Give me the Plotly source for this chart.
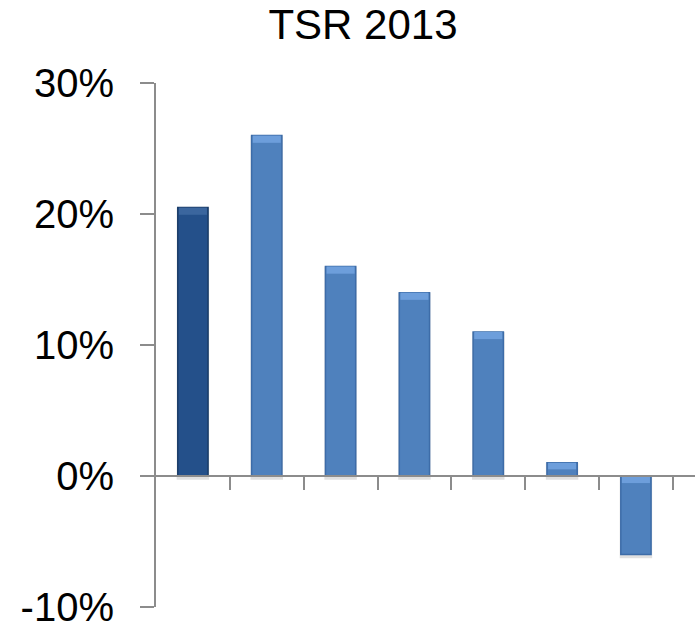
import plotly.graph_objects as go

# Total shareholder return by company, 2013
companies = ["A", "B", "C", "D", "E", "F", "G"]
tsr_pct = [20.5, 26.0, 16.0, 14.0, 11.0, 1.0, -6.0]
bar_colors = ["#24508a"] + ["#4f81bd"] * 6
edge_colors = ["#1a3c68"] + ["#3d6ca8"] * 6
cap_colors = ["#3b669e"] + ["#6d9edb"] * 6

y_ticks = [-10, 0, 10, 20, 30]
y_labels = [f"{v}%" for v in y_ticks]

W, H = 695, 626
m_l, m_r, m_t, m_b = 156, 0, 83, 19
bar_w = 0.41
cap_h = 0.55  # bevel depth, in value units
shadow_d = 0.3  # shadow drop, in value units

xs = list(range(len(companies)))

fig = go.Figure()

# soft drop shadow beneath each bar
shadow_base = [-shadow_d if v > 0 else 0.0 for v in tsr_pct]
shadow_len = [(v - b) if v > 0 else (v - shadow_d) for v, b in zip(tsr_pct, shadow_base)]
fig.add_trace(go.Bar(
    x=xs, y=shadow_len, base=shadow_base,
    width=bar_w + 0.03,
    marker=dict(color="rgba(0,0,0,0.12)", line=dict(width=0)),
    hoverinfo="skip",
))

fig.add_trace(go.Bar(
    x=xs, y=tsr_pct, width=bar_w,
    marker=dict(color=bar_colors, line=dict(color=edge_colors, width=1.5)),
    hoverinfo="skip",
))

# lighter bevel face at the top of each bar
cap_len = [min(cap_h, abs(v) * 0.5) for v in tsr_pct]
cap_base = [max(v, 0) - c for v, c in zip(tsr_pct, cap_len)]
fig.add_trace(go.Bar(
    x=xs, y=cap_len, base=cap_base, width=bar_w - 0.03,
    marker=dict(color=cap_colors, line=dict(width=0)),
    hoverinfo="skip",
))

y_min, y_max = -10, 30
fig.update_layout(
    width=W, height=H,
    margin=dict(l=m_l, r=m_r, t=m_t, b=m_b),
    paper_bgcolor="white", plot_bgcolor="white",
    showlegend=False, barmode="overlay",
    font=dict(family="Liberation Sans, Arial, sans-serif", color="black"),
    title=dict(text="TSR 2013", font=dict(size=42, color="black"),
               x=363 / W, xanchor="center", y=1 - 24 / H, yanchor="middle"),
    xaxis=dict(
        range=[-0.5, 6.8],
        showticklabels=False, automargin=False,
        showgrid=False, zeroline=False,
        showline=True, linecolor="#8c8c8c", linewidth=2,
        ticks="outside", ticklen=13, tickwidth=2, tickcolor="#8c8c8c",
        tickmode="array", tickvals=[i + 0.5 for i in xs],
        anchor="free",
        position=(0 - y_min) / (y_max - y_min),
    ),
    yaxis=dict(
        range=[y_min - 0.02, y_max + 0.02],
        tickmode="array", tickvals=y_ticks, ticktext=y_labels,
        tickfont=dict(size=40, color="black"),
        ticklabeloverflow="allow", automargin=False,
        showgrid=False, zeroline=False,
        showline=True, linecolor="#8c8c8c", linewidth=2,
        ticks="outside", ticklen=14, tickwidth=2, tickcolor="#8c8c8c",
        ticklabelstandoff=18,
    ),
)

fig.write_html("out.html")
